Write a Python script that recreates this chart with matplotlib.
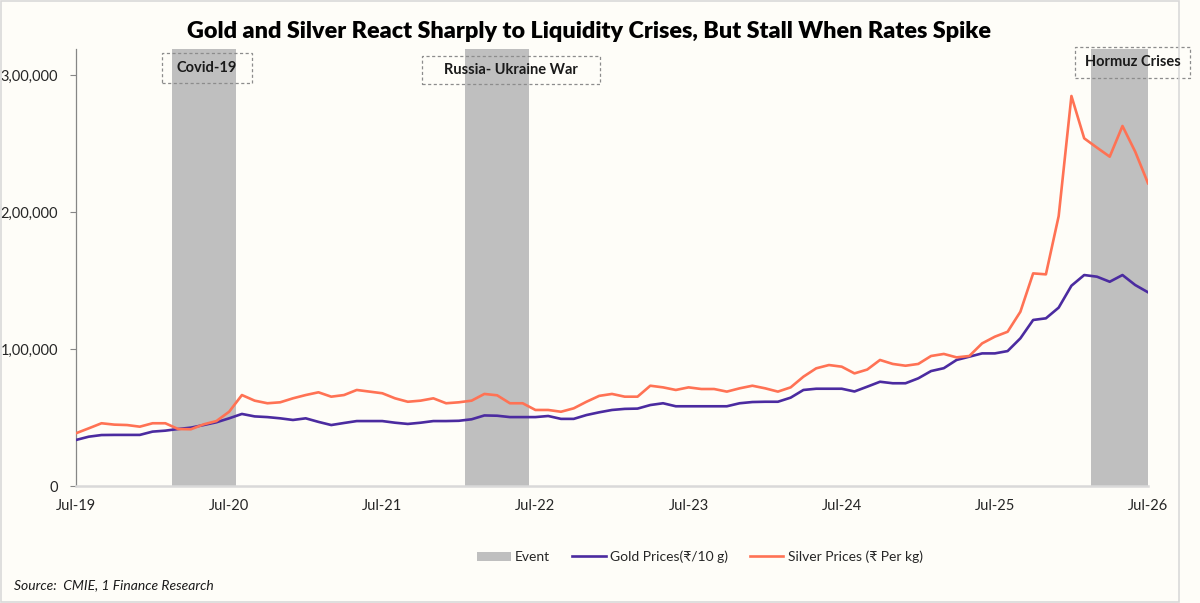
import matplotlib
matplotlib.use("Agg")
import matplotlib.pyplot as plt
from matplotlib.patches import Rectangle, Patch
from matplotlib.lines import Line2D
from matplotlib.ticker import FuncFormatter

plt.rcParams['font.family'] = ['Lato', 'DejaVu Sans']

# ---- data (monthly, Jul-19 .. Jul-26) ----
gold = [33600, 36000, 37200, 37300, 37300, 37300, 39700, 40400, 41600, 42600,
        44500, 46500, 49400, 52600, 50800, 50300, 49400, 48200, 49400, 46800,
        44500, 46000, 47400, 47400, 47400, 46200, 45300, 46200, 47400, 47400,
        47600, 48700, 51500, 51300, 50300, 50300, 50300, 51100, 49000, 49000,
        51800, 53800, 55500, 56300, 56500, 59100, 60400, 58200, 58200, 58200,
        58200, 58200, 60400, 61300, 61500, 61500, 64500, 70100, 71000, 71000,
        71000, 69000, 72500, 76100, 75000, 75000, 78600, 83900, 86000, 92000,
        94400, 96800, 96800, 98500, 107800, 121200, 122400, 130200, 146200, 154000,
        152800, 149100, 154000, 146700, 141400]
silver = [38500, 42100, 45800, 44800, 44500, 43300, 45800, 45800, 41600, 41400,
          45000, 47400, 54200, 66400, 62300, 60400, 61100, 64000, 66400, 68400,
          65200, 66400, 70100, 68900, 67700, 64000, 61500, 62300, 64000, 60400,
          61100, 62300, 67200, 66200, 60400, 60400, 55500, 55500, 54200, 56700,
          61500, 65800, 67200, 65200, 65200, 73200, 72000, 70100, 72000, 70800,
          70800, 68900, 71300, 73200, 71300, 68900, 72000, 79800, 85900, 88300,
          87100, 82200, 85000, 92000, 89100, 87800, 89100, 94900, 96400, 93900,
          94900, 104100, 109000, 112600, 127200, 155200, 154500, 197000, 284700, 253800,
          247000, 240400, 262800, 244000, 221000]
months = list(range(len(gold)))
tick_pos = [0, 12, 24, 36, 48, 60, 72, 84]
tick_labels = ['Jul-19', 'Jul-20', 'Jul-21', 'Jul-22', 'Jul-23', 'Jul-24', 'Jul-25', 'Jul-26']
event_names = ['Covid-19', 'Russia- Ukraine War', 'Hormuz Crises']
event_start = [7.5, 30.5, 79.5]
event_end = [12.5, 35.5, 84.0]
y_ticks = [0, 100000, 200000, 300000]

BG = '#FEFDF8'
GOLD_C = '#4B2BA0'
SILV_C = '#FF7254'
BAND_C = '#BFBFBF'
TXT = '#262626'

W, H = 1200, 603
fig = plt.figure(figsize=(12, 6.03), dpi=100, facecolor=BG)

def fx(px):
    return px / W

def fy(py):
    return 1 - py / H

ax = fig.add_axes([fx(76), fy(486), fx(1148) - fx(76), fy(49) - fy(486)])
ax.set_facecolor(BG)

for s, e in zip(event_start, event_end):
    ax.axvspan(s, e, color=BAND_C, lw=0, zorder=1)

ax.plot(months, gold, color=GOLD_C, lw=1.9, zorder=3, solid_joinstyle='round')
ax.plot(months, silver, color=SILV_C, lw=1.9, zorder=3, solid_joinstyle='round')

ax.set_xlim(0, 84)
ax.set_ylim(0, 319000)
ax.set_xticks(tick_pos)
ax.set_xticklabels(tick_labels)
ax.set_yticks(y_ticks)

def indian(v, pos):
    v = int(round(v))
    if v == 0:
        return '0'
    s = str(v)
    last3 = s[-3:]
    rest = s[:-3]
    parts = []
    while len(rest) > 2:
        parts.insert(0, rest[-2:])
        rest = rest[:-2]
    if rest:
        parts.insert(0, rest)
    return ','.join(parts + [last3])

ax.yaxis.set_major_formatter(FuncFormatter(indian))
ax.tick_params(axis='x', length=0, pad=9, labelsize=10.5, labelcolor=TXT)
ax.tick_params(axis='y', length=4, width=0.8, color='#868686', pad=9, labelsize=10.5, labelcolor=TXT)

for sp in ['top', 'right']:
    ax.spines[sp].set_visible(False)
ax.spines['left'].set_color('#868686')
ax.spines['left'].set_linewidth(0.9)
ax.spines['bottom'].set_color('#D9D9D9')
ax.spines['bottom'].set_linewidth(1.8)

# title
fig.text(fx(589), fy(32), 'Gold and Silver React Sharply to Liquidity Crises, But Stall When Rates Spike',
         ha='center', va='center', fontsize=16.8, fontweight='heavy', color='#000000')

# event label boxes
boxes = [(162, 53, 252, 83), (422, 56, 600, 84), (1075, 47, 1190, 78)]
for name, (x0, y0, x1, y1) in zip(event_names, boxes):
    fig.patches.append(Rectangle((fx(x0), fy(y1)), fx(x1) - fx(x0), fy(y0) - fy(y1),
                                 transform=fig.transFigure, fill=False, ec='#8C8C8C',
                                 lw=0.9, ls=(0, (2.5, 2))))
    fig.text(fx((x0 + x1) / 2), fy((y0 + y1) / 2), name, ha='center', va='center',
             fontsize=10.5, fontweight='bold', color='#1A1A1A')

# legend
handles = [Patch(facecolor=BAND_C, edgecolor='none'),
           Line2D([0], [0], color=GOLD_C, lw=1.9),
           Line2D([0], [0], color=SILV_C, lw=1.9)]
labels = ['Event', 'Gold Prices(₹/10 g)', 'Silver Prices (₹ Per kg)']
fig.legend(handles, labels, loc='center', bbox_to_anchor=(fx(700), fy(557)), ncol=3,
           frameon=False, fontsize=10, handlelength=2.4, handleheight=0.7,
           handletextpad=0.3, columnspacing=1.6, labelcolor=TXT)

# source
fig.text(fx(14), fy(585), 'Source:  CMIE, 1 Finance Research', ha='left', va='center',
         fontsize=10, style='italic', color='#1A1A1A')

# chart border
fig.patches.append(Rectangle((0.0008, 0.002), fx(1179) - 0.0008, 0.996, transform=fig.transFigure,
                             fill=False, ec='#D9D9D9', lw=1.2))

fig.savefig('out.png', dpi=100, facecolor=BG)
